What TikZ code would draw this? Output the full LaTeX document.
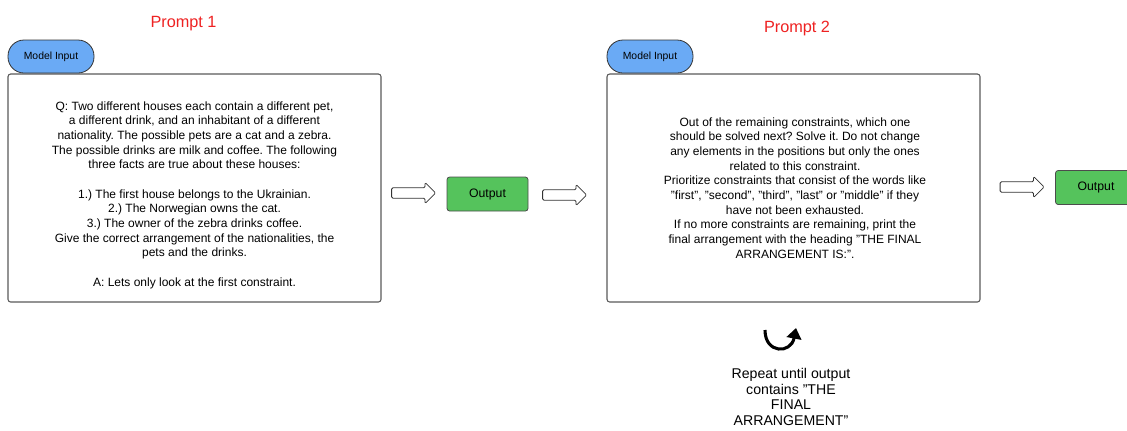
\documentclass[tikz,border=0pt]{standalone}
\usepackage{fontspec}
\setmainfont{Liberation Sans}
\frenchspacing
\usetikzlibrary{arrows.meta,positioning,shapes.arrows}
\definecolor{pillblue}{HTML}{6AAAF5}
\definecolor{outgreen}{HTML}{55C35C}
\definecolor{promptred}{HTML}{EE2222}

\begin{document}
\begin{tikzpicture}[
  x=0.75pt, y=-0.75pt,
  font=\fontsize{9}{11}\selectfont,
  box/.style={draw=black!65, line width=0.8pt, rounded corners=2pt, minimum width=279.75pt, minimum height=171pt},
  txt/.style={align=center, inner sep=0pt},
  pill/.style={draw=black!80, line width=0.6pt, fill=pillblue, rounded corners=12pt, minimum width=64.5pt, minimum height=24.75pt, font=\fontsize{7.8}{9}\selectfont},
  outbox/.style={draw=black!70, line width=0.6pt, fill=outgreen, rounded corners=2pt, minimum width=60.75pt, minimum height=25.5pt, font=\fontsize{9.2}{11}\selectfont},
  bigarrow/.style={single arrow, draw=black!80, line width=0.6pt, rounded corners=1pt, minimum height=33pt, single arrow head extend=4pt, inner sep=3.6pt},
  lbl/.style={text=promptred, font=\fontsize{12.2}{14}\selectfont}]
\useasboundingbox (0,0) rectangle (1127,430);
% ---------------- prompt 1 ----------------
\node[lbl] (p1) at (183.5,23.5) {Prompt 1};
\node[box] (q1) at (194.5,188) {};
\node[txt] (t1) at (194.5,195) {Q: Two different houses each contain a different pet,\\ a different drink, and an inhabitant of a different\\ nationality. The possible pets are a cat and a zebra.\\ The possible drinks are milk and coffee. The following\\ three facts are true about these houses:\\[11pt] 1.) The first house belongs to the Ukrainian.\\ 2.) The Norwegian owns the cat.\\ 3.) The owner of the zebra drinks coffee.\\ Give the correct arrangement of the nationalities, the\\ pets and the drinks.\\[11pt] A: Lets only look at the first constraint.};
\node[pill] (in1) at (51,56.5) {Model Input};
\node[bigarrow] (a1) at (411,193) {};
\node[outbox] (o1) at (487.5,194) {Output};
\node[bigarrow] (a2) at (562,195) {};
% ---------------- prompt 2 ----------------
\node[lbl] (p2) at (797,28.5) {Prompt 2};
\node[box] (q2) at (793.5,188) {};
\node[txt] (t2) at (795,188) {Out of the remaining constraints, which one\\ should be solved next? Solve it. Do not change\\ any elements in the positions but only the ones\\ related to this constraint.\\ Prioritize constraints that consist of the words like\\ "first", "second", "third", "last" or "middle" if they\\ have not been exhausted.\\ If no more constraints are remaining, print the\\ final arrangement with the heading "THE FINAL\\ ARRANGEMENT IS:".};
\node[pill] (in2) at (650,56.5) {Model Input};
\node[bigarrow] (a3) at (1019.5,187) {};
\node[outbox] (o2) at (1096,187.5) {Output};
% ---------------- repeat loop ----------------
\draw[line width=2.3pt, -{Triangle[length=8pt,width=11pt]}] (765,330) .. controls (765,354) and (791,354) .. (796,328);
\node[font=\fontsize{10.6}{11.6}\selectfont, align=center, anchor=north] (rep) at (791,364) {Repeat until output\\ contains "THE\\ FINAL\\ ARRANGEMENT"};
\end{tikzpicture}
\end{document}
